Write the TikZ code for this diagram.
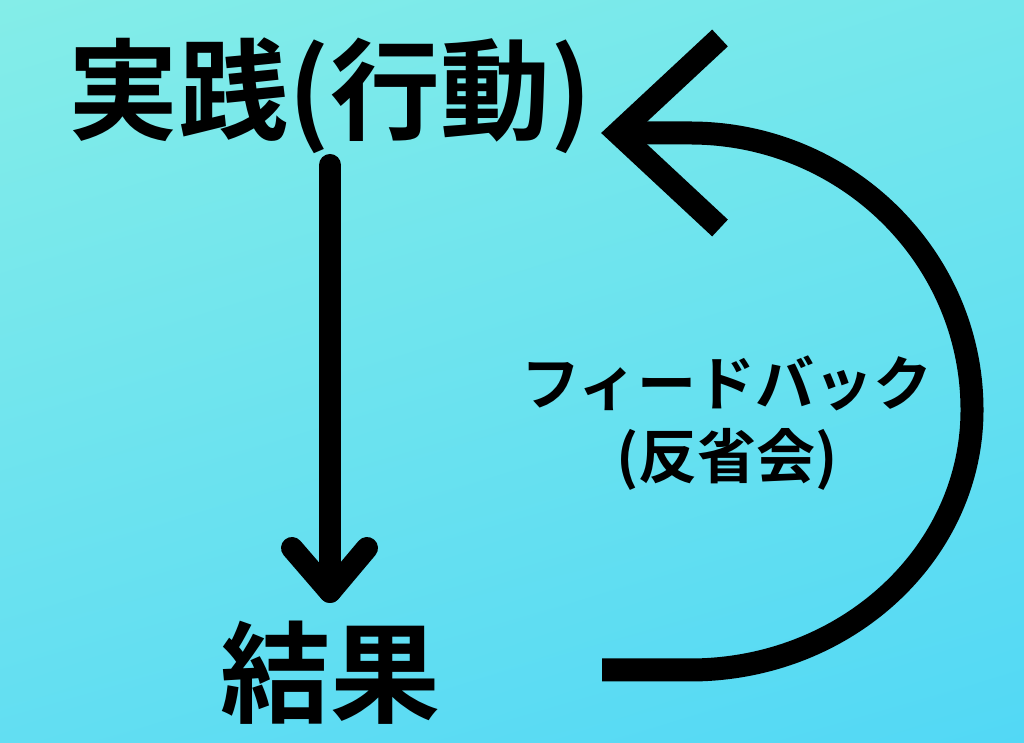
\documentclass[tikz,border=0pt]{standalone}
\usepackage{fontspec}
\usetikzlibrary{shadings}
\newfontfamily\cjkbold{Noto Sans CJK JP}[UprightFont=* Bold]
\definecolor{bgUL}{RGB}{132,237,232}
\definecolor{bgUR}{RGB}{116,231,236}
\definecolor{bgLL}{RGB}{98,222,242}
\definecolor{bgLR}{RGB}{82,216,245}
\tikzset{
  bigtext/.style={font=\cjkbold\fontsize{110}{120}\selectfont, inner sep=0pt, anchor=base},
  smalltext/.style={font=\cjkbold\fontsize{59}{72}\selectfont, inner sep=0pt, anchor=base},
  thickline/.style={line width=22pt, black},
}
\begin{document}
\begin{tikzpicture}[x=1pt, y=1pt]
  \shade[upper left=bgUL, upper right=bgUR, lower left=bgLL, lower right=bgLR]
    (0,0) rectangle (1024,743);
  \useasboundingbox (0,0) rectangle (1024,743);

  \node[bigtext] (practice) at (330,611) {実践(行動)};
  \node[bigtext] (result) at (330,28) {結果};
  \node[smalltext] (fb1) at (727,337) {フィードバック};
  \node[smalltext] (fb2) at (727,264) {(反省会)};

  % down arrow
  \coordinate (dtop) at (330,578);
  \coordinate (dtip) at (330,151);
  \coordinate (dl) at (292,195);
  \coordinate (dr) at (367,195);
  \draw[thickline, line cap=round] (dtop) -- (dtip);
  \draw[thickline, line cap=round, line join=round] (dl) -- (dtip) -- (dr);

  % feedback arrow
  \coordinate (ftip) at (618,610);
  \coordinate (fa) at (720,705);
  \coordinate (fb) at (720,515);
  \coordinate (fend) at (602,73);
  \draw[thickline, line width=23pt, line cap=butt] (ftip) -- (690,610)
    arc[start angle=90, end angle=0, x radius=282, y radius=277]
    arc[start angle=0, end angle=-90, x radius=282, y radius=260]
    -- (fend);
  \draw[thickline, line width=23pt, line cap=butt, line join=miter] (fa) -- (ftip) -- (fb);
\end{tikzpicture}
\end{document}
